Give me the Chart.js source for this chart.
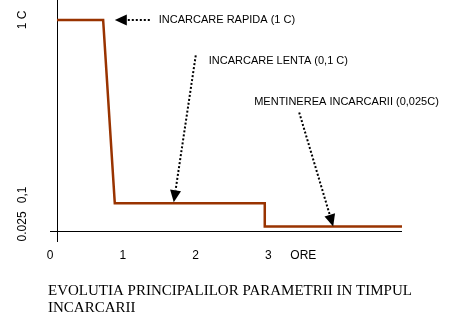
<!DOCTYPE html>
<html>
<head>
<meta charset="utf-8">
<script src="https://cdn.jsdelivr.net/npm/chart.js@4.4.1/dist/chart.umd.min.js"></script>
<style>
  body { margin: 0; background: #fff; }
  canvas { display: block; }
</style>
</head>
<body>
<canvas id="chart" width="454" height="323"></canvas>
<script>
// charge current profile (hours, current in C)
const hours = [0.096, 0.73, 0.89, 2.95, 2.95, 4.835];
const current = [1, 1, 0.1, 0.1, 0.025, 0.025];

const xTickValues = [0, 1, 2, 3, 3.48];
const xTickLabels = ["0", "1", "2", "3", "ORE"];
const yTickValues = [1, 0.1, 0.025];
const yTickLabels = ["1 C", "0,1", "0.025"];

const notes = ["INCARCARE RAPIDA (1 C)", "INCARCARE LENTA (0,1 C)", "MENTINEREA INCARCARII (0,025C)"];
const noteHours = [0.89, 1.70, 3.89];
const noteCurrent = [1, 0.1, 0.025];

const titleLines = ["EVOLUTIA PRINCIPALILOR PARAMETRII IN TIMPUL", "INCARCARII"];

// the drawing is schematic: the current axis is squeezed with a power law
const EXP = 0.8;
class PowerScale extends Chart.LinearScale {
    getPixelForValue(v) { return super.getPixelForValue(Math.pow(v, EXP)); }
    getValueForPixel(p) { return Math.pow(super.getValueForPixel(p), 1 / EXP); }
}
PowerScale.id = "power";
PowerScale.defaults = Chart.LinearScale.defaults;
Chart.register(PowerScale);

const yAxisAt = hours[0];

const axesPlugin = {
    id: "axes",
    beforeDatasetsDraw(chart) {
        const c = chart.ctx, a = chart.chartArea;
        const xp = Math.round(chart.scales.x.getPixelForValue(yAxisAt)) + 0.5;
        const yp = Math.round(a.bottom) + 0.5;
        c.save();
        c.strokeStyle = "#000";
        c.lineWidth = 1;
        c.beginPath();
        c.moveTo(a.left, yp); c.lineTo(a.right, yp);
        c.moveTo(xp, a.top); c.lineTo(xp, a.bottom + 11);
        c.stroke();

        // rotated current labels
        const aligns = ["center", "left", "center"];
        c.fillStyle = "#000";
        c.font = "12px 'Liberation Sans', Arial, sans-serif";
        c.textBaseline = "middle";
        yTickValues.forEach((v, i) => {
            const py = chart.scales.y.getPixelForValue(v);
            c.save();
            c.translate(22.5, py);
            c.rotate(-Math.PI / 2);
            c.textAlign = aligns[i];
            c.fillText(yTickLabels[i], 0, 0);
            c.restore();
        });
        c.restore();
    },
    afterDraw(chart) {
        // caption under the axis, free width (chart title would squeeze it)
        const c = chart.ctx;
        const top = chart.scales.x.bottom;
        c.save();
        c.fillStyle = "#000";
        c.font = "15px 'Liberation Serif', 'Times New Roman', serif";
        c.textAlign = "left";
        c.textBaseline = "middle";
        titleLines.forEach((t, i) => c.fillText(t, 48, top + 8.5 + i * 17));
        c.restore();
    }
};

const notesPlugin = {
    id: "notes",
    afterDatasetsDraw(chart) {
        const c = chart.ctx;
        // tail and text offsets from the arrow tip
        const tails = [[35, 0], [22, -147], [-34, -114]];
        const texts = [[44, 0], [35, -141], [-79, -124]];
        c.save();
        c.font = "11px 'Liberation Sans', Arial, sans-serif";
        c.fillStyle = "#000";
        c.strokeStyle = "#000";
        notes.forEach((t, i) => {
            const tx = chart.scales.x.getPixelForValue(noteHours[i]);
            const ty = chart.scales.y.getPixelForValue(noteCurrent[i]) - (i === 1 ? 1 : 0);
            const sx = tx + tails[i][0], sy = ty + tails[i][1];
            const ang = Math.atan2(ty - sy, tx - sx);
            const len = 12, hw = 5.5;
            const bx = tx - len * Math.cos(ang), by = ty - len * Math.sin(ang);
            c.setLineDash([2, 2]);
            c.lineWidth = 2;
            c.beginPath();
            c.moveTo(sx, sy); c.lineTo(bx, by);
            c.stroke();
            c.setLineDash([]);
            c.beginPath();
            c.moveTo(tx, ty);
            c.lineTo(bx + hw * Math.sin(ang), by - hw * Math.cos(ang));
            c.lineTo(bx - hw * Math.sin(ang), by + hw * Math.cos(ang));
            c.closePath();
            c.fill();
            c.textAlign = "left";
            c.textBaseline = "middle";
            c.fillText(t, tx + texts[i][0], ty + texts[i][1]);
        });
        c.restore();
    }
};

new Chart(document.getElementById("chart"), {
    type: "line",
    data: {
        datasets: [{
            data: hours.map((h, i) => ({ x: h, y: current[i] })),
            borderColor: "#993300",
            borderWidth: 2.5,
            pointRadius: 0,
            tension: 0,
            fill: false
        }]
    },
    options: {
        responsive: false,
        animation: false,
        layout: { padding: { left: 50, right: 52, top: 0, bottom: 40.5 } },
        plugins: {
            legend: { display: false },
            tooltip: { enabled: false },
            title: { display: false }
        },
        scales: {
            x: {
                type: "linear",
                min: 0,
                max: 4.835,
                grid: { display: false, drawTicks: false },
                border: { display: false },
                afterBuildTicks: s => { s.ticks = xTickValues.map(v => ({ value: v })); },
                afterFit: s => { s.height = 51.5; },
                ticks: {
                    autoSkip: false,
                    maxRotation: 0,
                    padding: 17,
                    color: "#000",
                    font: { family: "'Liberation Sans', Arial, sans-serif", size: 12 },
                    callback: (v, i) => xTickLabels[i]
                }
            },
            y: {
                type: "power",
                display: false,
                min: 0.0313,
                max: 1.0918
            }
        }
    },
    plugins: [axesPlugin, notesPlugin]
});
</script>
</body>
</html>
